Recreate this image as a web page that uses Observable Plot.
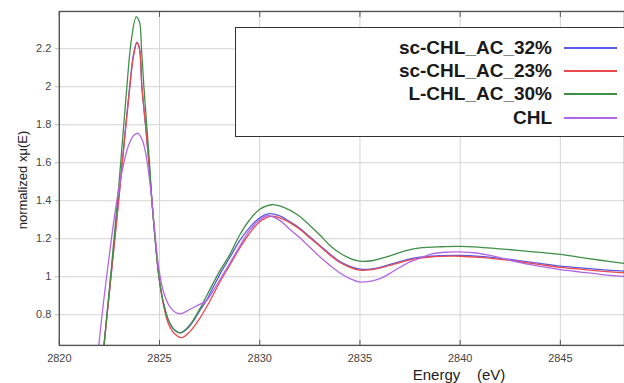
<!DOCTYPE html>
<html><head><meta charset="utf-8">
<script src="https://cdn.jsdelivr.net/npm/d3@7"></script>
<script src="https://cdn.jsdelivr.net/npm/@observablehq/plot@0.6"></script>
<style>
html,body{margin:0;padding:0;background:#fff;overflow:hidden}
#wrap{position:relative;width:624px;height:383px;overflow:hidden;font-family:"Liberation Sans",Arial,sans-serif}
#chart{position:absolute;left:0;top:0}
.ylab{position:absolute;left:22px;top:180px;transform:translate(-50%,-50%) rotate(-90deg);font-size:13px;color:#222;white-space:nowrap}
.xlab{position:absolute;left:459px;top:374px;transform:translate(-50%,-50%);font-size:15px;color:#222;white-space:pre}
#legend{position:absolute;left:235px;top:27px;width:400px;height:110px;box-sizing:border-box;border:1.5px solid #333;background:#fff;padding-top:8px}
.row{display:flex;align-items:center;height:23.3px}
.row .t{width:316px;text-align:right;font-weight:bold;font-size:19px;color:#1a1a1a}
.row .l{margin-left:12px;width:53px;height:2px}
</style></head><body><div id="wrap"><div id="chart"></div></div>
<script>
const seriesNames = ["sc-CHL_AC_32%", "sc-CHL_AC_23%", "L-CHL_AC_30%", "CHL"];
const seriesColors = ["#5a5ae6", "#ea4a50", "#3f8f47", "#b266e6"];
const xTicks = [2820, 2825, 2830, 2835, 2840, 2845];
const yTicks = [0.8, 1, 1.2, 1.4, 1.6, 1.8, 2, 2.2];
const xLabel = "Energy    (eV)";
const yLabel = "normalized xμ(E)";

const energy_sc32 = [2821.9,2822.23,2822.6,2823.0,2823.3,2823.51,2823.7,2823.87,2824.0,2824.12,2824.3,2824.47,2824.62,2824.78,2824.97,2825.2,2825.45,2825.75,2826.05,2826.5,2827.0,2827.32,2827.7,2828.1,2828.5,2829.0,2829.5,2830.0,2830.47,2831.0,2831.5,2832.0,2832.5,2833.0,2833.5,2834.0,2834.5,2835.0,2835.5,2836.0,2836.5,2837.0,2837.5,2838.0,2838.5,2839.0,2840.0,2841.0,2842.0,2843.0,2844.0,2845.0,2846.0,2847.0,2848.2];
const mu_sc32 = [0.28,0.64,1.03,1.45,1.78,2.0,2.17,2.235,2.2,2.0,1.8,1.6,1.4,1.2,1.0,0.86,0.77,0.72,0.705,0.74,0.82,0.872,0.95,1.03,1.10,1.19,1.26,1.31,1.332,1.32,1.29,1.255,1.21,1.165,1.12,1.08,1.055,1.04,1.04,1.05,1.065,1.08,1.094,1.103,1.108,1.111,1.112,1.107,1.097,1.084,1.07,1.056,1.047,1.038,1.03];

const energy_sc23 = [2821.9,2822.23,2822.6,2823.0,2823.3,2823.51,2823.7,2823.88,2824.0,2824.12,2824.3,2824.47,2824.62,2824.78,2824.97,2825.2,2825.45,2825.75,2826.1,2826.5,2827.0,2827.5,2828.0,2828.5,2829.0,2829.5,2830.0,2830.55,2831.0,2831.5,2832.0,2832.5,2833.0,2833.5,2834.0,2834.5,2835.0,2835.5,2836.0,2836.5,2837.0,2837.5,2838.0,2838.5,2839.0,2840.0,2841.0,2842.0,2843.0,2844.0,2845.0,2846.0,2847.0,2848.2];
const mu_sc23 = [0.28,0.64,1.02,1.44,1.77,1.99,2.16,2.232,2.2,2.0,1.8,1.6,1.4,1.2,1.0,0.85,0.75,0.70,0.68,0.71,0.78,0.87,0.97,1.06,1.15,1.23,1.29,1.318,1.31,1.285,1.25,1.205,1.16,1.115,1.075,1.05,1.035,1.036,1.046,1.06,1.075,1.089,1.098,1.104,1.107,1.108,1.102,1.092,1.079,1.064,1.05,1.04,1.03,1.02];

const energy_L30 = [2821.9,2822.23,2822.6,2823.0,2823.37,2823.6,2823.84,2824.0,2824.1,2824.22,2824.36,2824.5,2824.62,2824.78,2824.97,2825.2,2825.45,2825.75,2826.05,2826.5,2827.0,2827.5,2828.0,2828.5,2829.0,2829.5,2830.0,2830.6,2831.2,2831.9,2832.5,2833.0,2833.5,2834.0,2834.5,2835.0,2835.5,2836.0,2836.5,2837.0,2837.5,2838.0,2839.0,2840.0,2841.0,2842.0,2843.0,2844.0,2845.0,2846.0,2847.0,2848.2];
const mu_L30 = [0.28,0.64,1.05,1.52,2.0,2.25,2.367,2.34,2.2,2.0,1.8,1.6,1.4,1.2,1.0,0.86,0.77,0.72,0.705,0.745,0.83,0.93,1.03,1.115,1.22,1.30,1.355,1.379,1.365,1.325,1.27,1.22,1.165,1.125,1.097,1.082,1.083,1.095,1.11,1.128,1.143,1.152,1.158,1.16,1.155,1.147,1.138,1.128,1.118,1.102,1.087,1.07];

const energy_CHL = [2821.6,2821.97,2822.3,2822.6,2822.9,2823.22,2823.45,2823.7,2823.92,2824.14,2824.3,2824.45,2824.6,2824.78,2824.97,2825.2,2825.5,2825.8,2826.08,2826.5,2827.0,2827.32,2827.7,2828.1,2828.5,2829.0,2829.5,2830.0,2830.4,2831.0,2831.5,2832.0,2832.5,2833.0,2833.5,2834.0,2834.5,2835.0,2835.5,2836.0,2836.5,2837.0,2837.5,2838.0,2838.6,2839.2,2840.0,2840.8,2841.5,2842.1,2843.0,2844.0,2845.0,2846.0,2847.0,2848.2];
const mu_CHL = [0.22,0.639,0.95,1.2,1.42,1.6,1.69,1.742,1.755,1.72,1.655,1.555,1.42,1.22,1.04,0.92,0.845,0.812,0.806,0.828,0.855,0.872,0.93,1.0,1.07,1.16,1.245,1.3,1.321,1.297,1.25,1.205,1.155,1.105,1.06,1.02,0.99,0.972,0.976,0.99,1.018,1.05,1.078,1.098,1.12,1.129,1.131,1.125,1.112,1.097,1.075,1.055,1.038,1.025,1.013,1.002];

const energies = [energy_sc32, energy_sc23, energy_L30, energy_CHL];
const mus = [mu_sc32, mu_sc23, mu_L30, mu_CHL];
const rows = seriesNames.flatMap((name, i) => energies[i].map((E, j) => ({series: name, E, mu: mus[i][j]})));

const fmt = d => String(+d.toFixed(1));

const chart = Plot.plot({
  width: 626,
  height: 383,
  marginTop: 11,
  marginBottom: 37,
  marginLeft: 59,
  marginRight: 0,
  style: {fontFamily: "'Liberation Sans', Arial, sans-serif", fontSize: "11px", color: "#444", background: "#fff"},
  x: {domain: [2820, 2848.2], label: null},
  y: {domain: [0.639, 2.396], label: null},
  color: {domain: seriesNames, range: seriesColors},
  marks: [
    Plot.gridX(xTicks, {stroke: "#d4d4d4", strokeOpacity: 1}),
    Plot.gridY(yTicks, {stroke: "#d4d4d4", strokeOpacity: 1}),
    Plot.axisX(xTicks, {tickSize: 0, tickPadding: 9, tickFormat: d => String(d), fill: "#444"}),
    Plot.axisX(xTicks, {tickSize: -5, tickFormat: () => "", stroke: "#555"}),
    Plot.axisX(xTicks, {anchor: "top", tickSize: -5, tickFormat: () => "", stroke: "#555"}),
    Plot.axisY(yTicks, {tickSize: 4, tickPadding: 4, tickFormat: fmt, stroke: "#bbb", fill: "#444"}),
    Plot.line(rows, {x: "E", y: "mu", stroke: "series", z: "series", strokeWidth: 1.3, curve: "catmull-rom", clip: true}),
    Plot.frame({stroke: "#555", strokeWidth: 1.4})
  ]
});
document.getElementById("chart").appendChild(chart);

const wrap = document.getElementById("wrap");
const yl = document.createElement("div"); yl.className = "ylab"; yl.textContent = yLabel; wrap.appendChild(yl);
const xl = document.createElement("div"); xl.className = "xlab"; xl.textContent = xLabel; wrap.appendChild(xl);
const lg = document.createElement("div"); lg.id = "legend";
seriesNames.forEach((name, i) => {
  const r = document.createElement("div"); r.className = "row";
  const t = document.createElement("div"); t.className = "t"; t.textContent = name;
  const l = document.createElement("div"); l.className = "l"; l.style.background = seriesColors[i];
  r.appendChild(t); r.appendChild(l); lg.appendChild(r);
});
wrap.appendChild(lg);
</script>
</body></html>
